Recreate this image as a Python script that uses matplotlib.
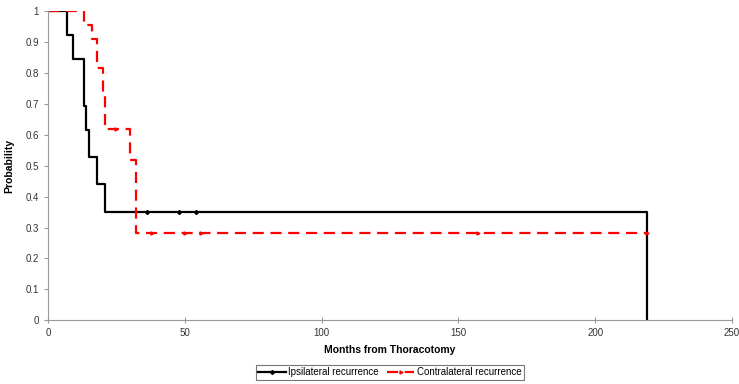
import matplotlib.pyplot as plt
from matplotlib.lines import Line2D

plt.rcParams['font.family'] = ['Liberation Sans', 'DejaVu Sans']

# Kaplan-Meier step data (months, survival probability)
ipsi_t = [0, 7, 9, 13, 14, 15, 18, 21, 219, 219]
ipsi_p = [1, 0.923, 0.846, 0.692, 0.615, 0.527, 0.44, 0.352, 0.352, 0]
ipsi_cens_t = [36, 48, 54]
ipsi_cens_p = [0.352, 0.352, 0.352]

contra_t = [0, 13, 16, 18, 20, 21, 30, 32, 219]
contra_p = [1, 0.955, 0.909, 0.818, 0.727, 0.62, 0.52, 0.282, 0.282]
contra_cens_t = [25, 38, 50, 56, 157, 219]
contra_cens_p = [0.62, 0.282, 0.282, 0.282, 0.282, 0.282]

fig = plt.figure(figsize=(7.39, 3.84), dpi=100)
ax = fig.add_axes([0.065, 0.166, 0.9255, 0.8045])

ax.step(ipsi_t, ipsi_p, where='post', color='black', lw=1.6)
ax.plot(ipsi_cens_t, ipsi_cens_p, ls='none', marker='D', ms=2, color='black')

ax.step(contra_t, contra_p, where='post', color='#ff0000', lw=1.6, ls=(0, (5, 3)))
ax.plot(contra_cens_t, contra_cens_p, ls='none', marker='>', ms=2.2, color='#ff0000')

ax.set_xlim(0, 250)
ax.set_ylim(0, 1)
ax.set_xticks(range(0, 251, 50))
ax.set_yticks([i / 10 for i in range(11)])
ax.set_yticklabels(['0', '0.1', '0.2', '0.3', '0.4', '0.5', '0.6', '0.7', '0.8', '0.9', '1'])

for s in ['top', 'right']:
    ax.spines[s].set_visible(False)
for s in ['left', 'bottom']:
    ax.spines[s].set_color('#999999')
    ax.spines[s].set_linewidth(0.8)
ax.spines['bottom'].set_linestyle((0, (2, 1)))
ax.tick_params(axis='both', colors='#999999', labelcolor='#333333', labelsize=7, length=3, width=0.8)
ax.tick_params(axis='x', direction='inout', length=5, pad=3)

ax.set_xlabel('Months from Thoracotomy', fontsize=7.5, fontweight='bold', labelpad=5)
ax.set_ylabel('Probability', fontsize=7.5, fontweight='bold', labelpad=8)

handles = [
    Line2D([], [], color='black', lw=1.6, marker='D', ms=2),
    Line2D([], [], color='#ff0000', lw=1.6, ls=(0, (5, 3)), marker='>', ms=2.2),
]
leg = ax.legend(handles, ['Ipsilateral recurrence', 'Contralateral recurrence'],
                loc='upper center', bbox_to_anchor=(0.5, -0.128), ncol=2,
                fontsize=7, frameon=True, fancybox=False, handlelength=2.8,
                handletextpad=0.3, columnspacing=0.8, borderpad=0.25)
leg.get_frame().set_edgecolor('#555555')
leg.get_frame().set_linewidth(0.8)

fig.savefig('out.png', dpi=100)
